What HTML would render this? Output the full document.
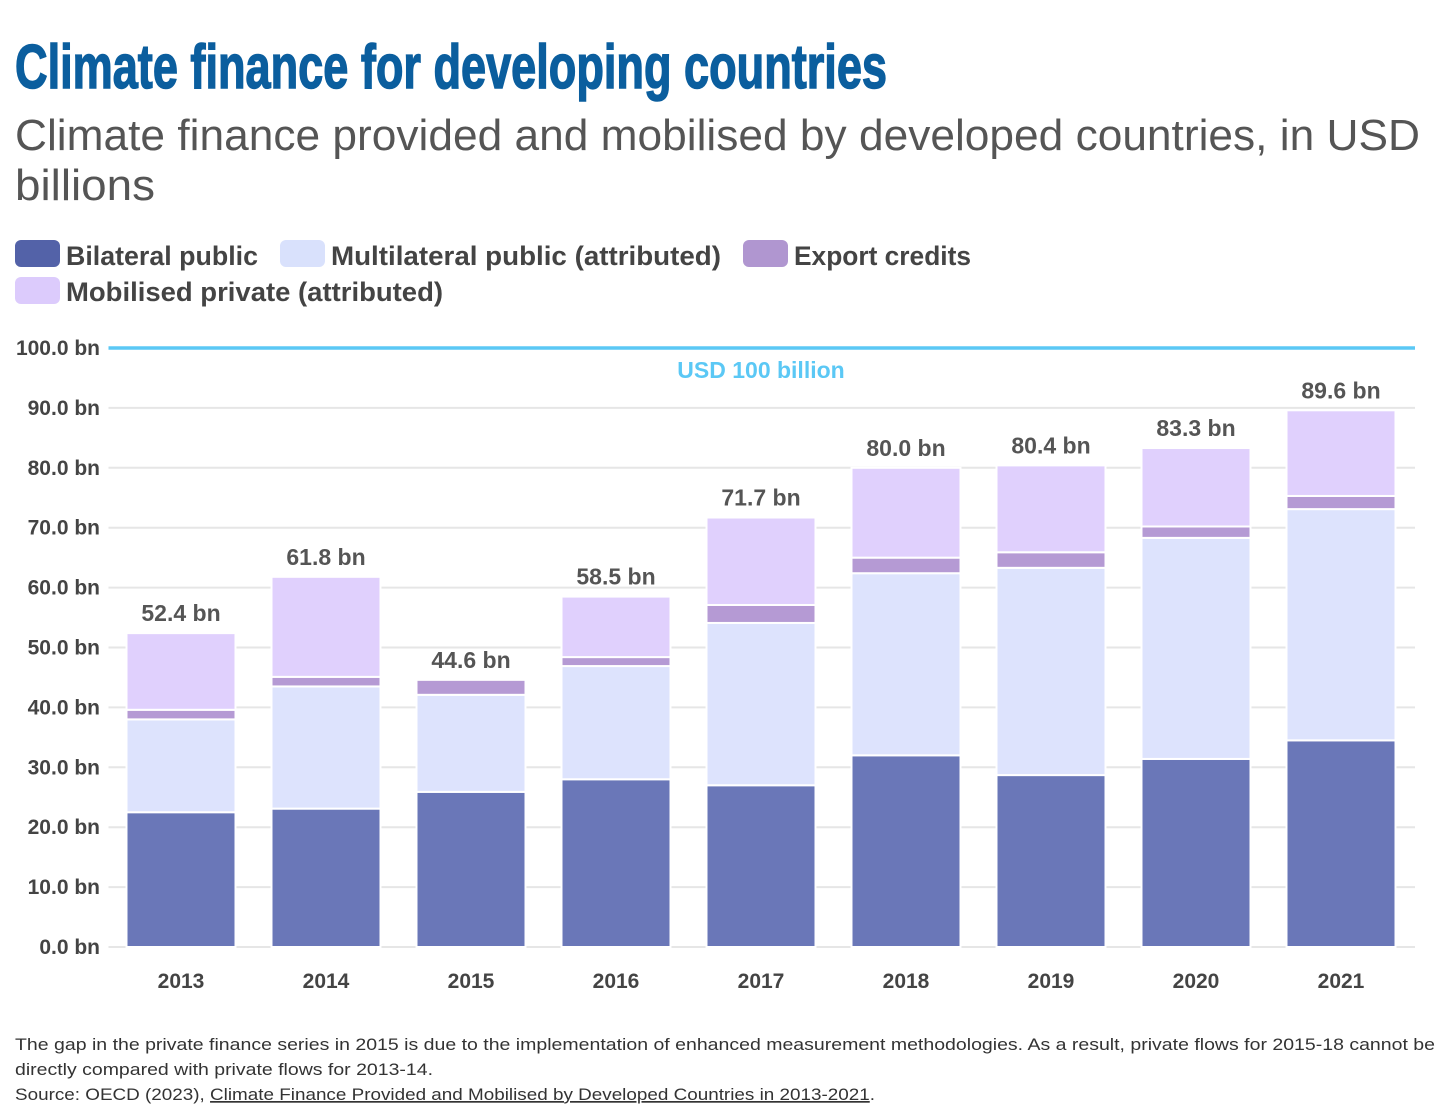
<!DOCTYPE html>
<html><head><meta charset="utf-8"><style>
html,body{margin:0;padding:0;background:#fff;width:1456px;height:1112px;overflow:hidden}
svg{display:block;font-family:"Liberation Sans",sans-serif}
</style></head><body>
<svg id="chart" width="1456" height="1112" viewBox="0 0 1456 1112">
<text x="15" y="88" font-family="'Liberation Sans Narrow','Liberation Sans',sans-serif" font-weight="bold" font-size="62" fill="#0b5e9e" stroke="#0b5e9e" stroke-width="1.5" textLength="872" lengthAdjust="spacingAndGlyphs">Climate finance for developing countries</text>
<text x="15" y="150" font-size="44" fill="#555" textLength="1405" lengthAdjust="spacingAndGlyphs">Climate finance provided and mobilised by developed countries, in USD</text>
<text x="15" y="200" font-size="44" fill="#555" textLength="140" lengthAdjust="spacingAndGlyphs">billions</text>
<g font-size="27" font-weight="bold" fill="#444">
<g><rect x="15" y="240" width="45" height="27" rx="6" fill="#5362a8"/><text x="66" y="265" textLength="192" lengthAdjust="spacingAndGlyphs">Bilateral public</text></g>
<g><rect x="280" y="240" width="45" height="27" rx="6" fill="#d9e1fc"/><text x="331" y="265" textLength="390" lengthAdjust="spacingAndGlyphs">Multilateral public (attributed)</text></g>
<g><rect x="743" y="240" width="45" height="27" rx="6" fill="#b096d0"/><text x="794" y="265" textLength="177" lengthAdjust="spacingAndGlyphs">Export credits</text></g>
<g><rect x="15" y="277" width="45" height="27" rx="6" fill="#dccbfc"/><text x="66" y="301" textLength="377" lengthAdjust="spacingAndGlyphs">Mobilised private (attributed)</text></g>
</g>
<g id="plot"></g>
<g font-size="17" fill="#333">
<text x="15" y="1050" textLength="1420" lengthAdjust="spacingAndGlyphs">The gap in the private finance series in 2015 is due to the implementation of enhanced measurement methodologies. As a result, private flows for 2015-18 cannot be</text>
<text x="15" y="1075" textLength="418" lengthAdjust="spacingAndGlyphs">directly compared with private flows for 2013-14.</text>
<text x="15" y="1100" textLength="860" lengthAdjust="spacingAndGlyphs">Source: OECD (2023), <tspan text-decoration="underline">Climate Finance Provided and Mobilised by Developed Countries in 2013-2021</tspan>.</text>
</g>
</svg>
<script>
const years=["2013","2014","2015","2016","2017","2018","2019","2020","2021"];
const bilateral=[22.5,23.1,25.9,28.0,27.0,32.0,28.7,31.4,34.5];
const multilateral=[15.5,20.4,16.2,18.9,27.1,30.4,34.6,36.9,38.6];
const exportCredits=[1.6,1.6,2.5,1.5,3.0,2.6,2.6,1.9,2.2];
const privateMob=[12.8,16.7,0,10.1,14.6,15.0,14.5,13.1,14.3];
const totalLabels=["52.4 bn","61.8 bn","44.6 bn","58.5 bn","71.7 bn","80.0 bn","80.4 bn","83.3 bn","89.6 bn"];
const yTicks=[0,10,20,30,40,50,60,70,80,90,100];
const target=100;

const NS="http://www.w3.org/2000/svg";
const plot=document.getElementById('plot');
const X0=108.5,X1=1413.5,Y0=947,Y100=348;
const y=v=>Y0-(v/100)*(Y0-Y100);
const band=(X1-X0)/years.length;
const xc=i=>X0+band*(i+0.5);
const bw=109;
function el(tag,attrs,parent){const e=document.createElementNS(NS,tag);for(const k in attrs)e.setAttribute(k,attrs[k]);(parent||plot).appendChild(e);return e;}
yTicks.forEach(t=>{
  if(t!==target){const l=el('line',{x1:X0,x2:1415,y1:y(t),y2:y(t),stroke:'#e6e6e6','stroke-width':2});
  
  }
  const tx=el('text',{x:100,y:y(t)+7,'text-anchor':'end','font-size':21,'font-weight':'bold',fill:'#444'});
  tx.textContent=t.toFixed(1)+' bn';
  
  
});
const series=[[bilateral,'#6a77b8','bilateral'],[multilateral,'#dde3fd','multilateral'],[exportCredits,'#b59ad4','export'],[privateMob,'#e0d0fd','private']];
years.forEach((yr,i)=>{
  let base=0;
  series.forEach(([arr,c,n])=>{
    const v=arr[i]; if(v<=0)return;
    const r=el('rect',{x:xc(i)-bw/2,y:y(base+v),width:bw,height:y(base)-y(base+v),fill:c,stroke:'#fff','stroke-width':2});
    
    
    base+=v;
  });
  const lt=el('text',{x:xc(i),y:y(base)-12,'text-anchor':'middle','font-size':23,'font-weight':'bold',fill:'#555'});
  lt.textContent=totalLabels[i];
  
  
  const xt=el('text',{x:xc(i),y:988,'text-anchor':'middle','font-size':21,'font-weight':'bold',fill:'#444'});
  xt.textContent=yr;
  
  
});
const tl=el('line',{x1:X0,x2:1415,y1:y(target),y2:y(target),stroke:'#5bc8f5','stroke-width':3.5});


const tt=el('text',{x:761,y:y(target)+30,'text-anchor':'middle','font-size':23,'font-weight':'bold',fill:'#5bc8f5'});
tt.textContent='USD 100 billion';


</script>
</body></html>
